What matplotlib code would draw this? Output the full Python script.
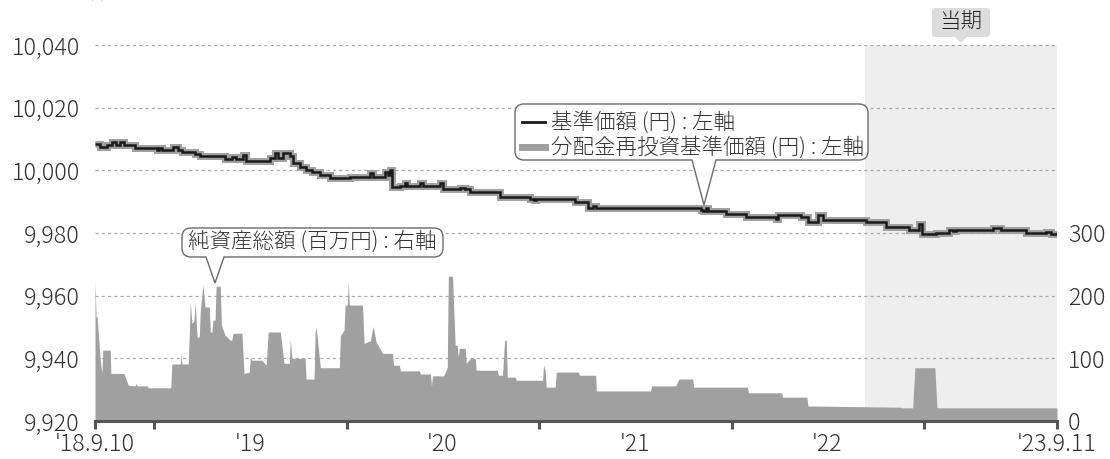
import matplotlib
matplotlib.use('Agg')
import matplotlib.pyplot as plt
from matplotlib.path import Path
from matplotlib.patches import PathPatch
from matplotlib.lines import Line2D
from matplotlib.transforms import Affine2D
import pandas as pd

plt.rcParams['font.family'] = ['Noto Sans CJK JP', 'DejaVu Sans']
plt.rcParams['font.weight'] = 'light'

# ---------------- data ----------------
start_date = '2018-09-10'
end_date = '2023-09-11'
period_start = '2022-09-12'

nav_dates = ['2018-09-10', '2018-09-20', '2018-10-03', '2018-10-12', '2018-10-20', '2018-10-28',
             '2018-11-04', '2018-11-25', '2019-01-06', '2019-01-10', '2019-01-15', '2019-02-05',
             '2019-02-15', '2019-02-22', '2019-03-19', '2019-03-29', '2019-05-15', '2019-05-28',
             '2019-06-05', '2019-06-18', '2019-06-24', '2019-08-09', '2019-08-18', '2019-08-24',
             '2019-09-02', '2019-09-16', '2019-09-21', '2019-10-05', '2019-10-16', '2019-10-28',
             '2019-11-12', '2019-12-01', '2020-01-08', '2020-02-15', '2020-02-20', '2020-03-14',
             '2020-03-20', '2020-03-24', '2020-03-28', '2020-04-12', '2020-04-21', '2020-04-25',
             '2020-05-20', '2020-05-24', '2020-06-27', '2020-07-01', '2020-08-04', '2020-08-13',
             '2020-08-23', '2020-10-19', '2020-12-15', '2020-12-21', '2020-12-26', '2021-03-10',
             '2021-04-04', '2021-04-12', '2021-04-19', '2021-11-03', '2021-11-07', '2021-11-13',
             '2021-11-18', '2021-12-21', '2022-01-28', '2022-03-26', '2022-03-31', '2022-05-12',
             '2022-05-27', '2022-06-15', '2022-06-23', '2022-09-13', '2022-10-21', '2022-12-04',
             '2022-12-23', '2022-12-28', '2023-01-24', '2023-02-18', '2023-02-25', '2023-03-03',
             '2023-05-12', '2023-05-27', '2023-07-14', '2023-08-21', '2023-08-30', '2023-09-11']
nav_values = [10008.3, 10007.3, 10008.0, 10009.0, 10008.0, 10009.0,
              10008.0, 10007.0, 10006.4, 10007.0, 10006.4, 10007.5,
              10006.4, 10005.7, 10005.3, 10004.5, 10003.5, 10004.3,
              10003.5, 10005.0, 10003.0, 10004.0, 10005.5, 10004.0,
              10005.5, 10004.5, 10002.5, 10001.0, 10000.0, 9999.4,
              9998.4, 9997.4, 9998.0, 9999.0, 9998.0, 9999.5,
              9998.4, 10000.0, 9994.6, 9995.0, 9996.0, 9995.0,
              9996.0, 9995.0, 9996.0, 9994.0, 9994.5, 9994.0,
              9993.0, 9991.4, 9991.0, 9990.5, 9991.0, 9990.0,
              9988.0, 9988.6, 9988.0, 9987.5, 9987.0, 9988.0,
              9987.0, 9986.0, 9985.0, 9984.5, 9985.6, 9985.0,
              9983.5, 9985.8, 9984.2, 9983.4, 9982.0, 9981.0,
              9983.0, 9979.6, 9980.0, 9981.0, 9980.5, 9981.0,
              9981.5, 9981.0, 9980.0, 9980.3, 9979.8, 9980.2]
# 分配金再投資基準価額 (no distributions -> same as NAV)
reinv_values = list(nav_values)

na_dates = ['2018-09-10', '2018-09-12', '2018-09-14', '2018-09-20', '2018-09-23', '2018-09-25',
            '2018-10-09', '2018-10-10', '2018-11-04', '2018-11-12', '2018-11-25', '2018-11-27',
            '2018-11-29', '2018-12-18', '2018-12-20', '2019-02-01', '2019-02-03', '2019-02-19',
            '2019-02-20', '2019-02-22', '2019-03-06', '2019-03-08', '2019-03-10', '2019-03-13',
            '2019-03-17', '2019-03-19', '2019-03-23', '2019-03-27', '2019-03-29', '2019-04-03',
            '2019-04-07', '2019-04-15', '2019-04-17', '2019-04-20', '2019-04-22', '2019-04-26',
            '2019-04-28', '2019-05-06', '2019-05-08', '2019-05-15', '2019-05-25', '2019-05-28',
            '2019-05-30', '2019-06-16', '2019-06-20', '2019-06-30', '2019-07-02', '2019-07-05',
            '2019-07-24', '2019-08-01', '2019-08-05', '2019-08-28', '2019-09-04', '2019-09-14',
            '2019-09-16', '2019-09-19', '2019-10-14', '2019-10-16', '2019-10-31', '2019-11-02',
            '2019-11-04', '2019-11-08', '2019-11-12', '2019-12-18', '2019-12-20', '2019-12-27',
            '2019-12-29', '2020-01-02', '2020-01-04', '2020-01-06', '2020-01-31', '2020-02-03',
            '2020-02-15', '2020-02-20', '2020-02-26', '2020-03-09', '2020-03-28', '2020-03-30',
            '2020-04-10', '2020-04-12', '2020-05-18', '2020-05-20', '2020-06-08', '2020-06-10',
            '2020-06-12', '2020-07-03', '2020-07-10', '2020-07-12', '2020-07-20', '2020-07-25',
            '2020-07-29', '2020-07-31', '2020-08-02', '2020-08-13', '2020-08-15', '2020-08-23',
            '2020-09-01', '2020-09-03', '2020-10-13', '2020-10-15', '2020-10-23', '2020-10-27',
            '2020-10-30', '2020-11-01', '2020-11-16', '2020-11-18', '2021-01-07', '2021-01-09',
            '2021-01-12', '2021-01-14', '2021-01-31', '2021-02-02', '2021-03-16', '2021-03-18',
            '2021-04-18', '2021-04-19', '2021-07-31', '2021-08-02', '2021-09-17', '2021-09-23',
            '2021-10-19', '2021-10-21', '2022-01-31', '2022-02-02', '2022-04-06', '2022-04-08',
            '2022-05-24', '2022-05-26', '2022-11-18', '2022-11-20', '2022-12-11', '2022-12-15',
            '2023-01-22', '2023-01-26', '2023-09-11']
na_values = [225, 166, 166, 97, 76, 113,
             113, 76, 76, 57, 56, 60,
             56, 56, 53, 53, 91, 91,
             107, 91, 91, 137, 190, 156,
             160, 190, 134, 134, 177, 217,
             182, 182, 142, 142, 161, 161,
             215, 215, 153, 137, 129, 129,
             140, 140, 76, 78, 102, 97,
             97, 89, 142, 142, 92, 92,
             131, 100, 100, 67, 67, 142,
             150, 118, 85, 85, 136, 145,
             185, 185, 222, 185, 185, 124,
             128, 151, 126, 108, 108, 89,
             89, 80, 80, 75, 75, 56,
             72, 72, 85, 231, 231, 121,
             121, 102, 116, 116, 92, 100,
             100, 81, 81, 73, 73, 129,
             129, 70, 70, 65, 65, 89,
             80, 54, 54, 78, 78, 73,
             73, 48, 48, 56, 56, 67,
             67, 54, 54, 45, 45, 38,
             38, 24, 22, 21, 21, 85,
             85, 21, 21]

left_ticks = [9920, 9940, 9960, 9980, 10000, 10020, 10040]
right_ticks = [0, 100, 200, 300]
x_tick_dates = ['2018-09-10', '2019-01-01', '2020-01-01', '2021-01-01',
                '2022-01-01', '2023-01-01', '2023-09-11']
x_label_dates = ['2018-09-10', '2019-07-01', '2020-07-01', '2021-07-01',
                 '2022-07-01', '2023-09-11']
x_labels = ["'18.9.10", "'19", "'20", "'21", "'22", "'23.9.11"]

left_lim = (9920, 10040)
right_lim = (0, 600)

# ---------------- figure ----------------
W, H = 1110, 459
fig = plt.figure(figsize=(W / 100, H / 100), dpi=100)
ax = fig.add_axes([95 / W, 1 - 421 / H, (1057 - 95) / W, (421 - 45) / H])
ax2 = ax.twinx()

TXT = '#333333'
FS = 16.8

# net assets (right axis) on ax (drawn below ax2)
nd = pd.to_datetime(na_dates)
ax.set_xlim(pd.Timestamp(start_date), pd.Timestamp(end_date))
ax.set_ylim(*right_lim)
ax.axvspan(pd.Timestamp(period_start), pd.Timestamp(end_date), color='#eeeeee', lw=0, zorder=0)


def to_right(v):
    return (v - left_lim[0]) / (left_lim[1] - left_lim[0]) * (right_lim[1] - right_lim[0]) + right_lim[0]


for t in left_ticks[1:]:
    ax.axhline(to_right(t), color='#aaaaaa', lw=0.9, ls=(0, (2.5, 2.5)), zorder=1)

ax.fill_between(nd, na_values, 0, color='#a0a0a0', lw=0, zorder=3)

ax.yaxis.tick_right()
ax.set_yticks(right_ticks)
ax.set_yticklabels([f'{v:,}' for v in right_ticks])
ax.tick_params(axis='y', length=0, pad=8, labelsize=FS, labelcolor=TXT)

for s in ['top', 'left', 'right']:
    ax.spines[s].set_visible(False)
ax.spines['bottom'].set_color('#555555')
ax.spines['bottom'].set_linewidth(2.2)
ax.spines['bottom'].set_zorder(5)

ax.xaxis.set_remove_overlapping_locs(False)
ax.set_xticks(pd.to_datetime(x_tick_dates))
ax.set_xticklabels([''] * len(x_tick_dates))
ax.set_xticks(pd.to_datetime(x_label_dates), minor=True)
ax.set_xticklabels(x_labels, minor=True)
ax.tick_params(axis='x', which='major', length=6, width=2.2, color='#555555', direction='out')
ax.tick_params(axis='x', which='minor', length=0, pad=8, labelsize=FS, labelcolor=TXT)

# NAV lines (left axis)
dd = pd.to_datetime(nav_dates)
ax2.set_ylim(*left_lim)
ax2.plot(dd, reinv_values, drawstyle='steps-post', color='#a0a0a0', lw=5.0, zorder=4,
         solid_joinstyle='miter', solid_capstyle='butt')
ax2.plot(dd, nav_values, drawstyle='steps-post', color='#1a1a1a', lw=1.8, zorder=5,
         solid_joinstyle='miter', solid_capstyle='butt')
ax2.yaxis.tick_left()
ax2.set_yticks(left_ticks)
ax2.set_yticklabels([f'{v:,}' for v in left_ticks])
ax2.tick_params(axis='y', length=0, pad=11, labelsize=FS, labelcolor=TXT)
for s in ['top', 'left', 'right', 'bottom']:
    ax2.spines[s].set_visible(False)

# ---------------- annotations in pixel space ----------------
pix = Affine2D().scale(1 / W, -1 / H).translate(0, 1) + fig.transFigure


def callout(x0, y0, x1, y1, r, b0, b1, tx, ty, fc, ec, lw):
    verts = [(x0 + r, y0), (x1 - r, y0), (x1, y0), (x1, y0 + r), (x1, y1 - r), (x1, y1),
             (x1 - r, y1), (b1, y1), (tx, ty), (b0, y1), (x0 + r, y1), (x0, y1), (x0, y1 - r),
             (x0, y0 + r), (x0, y0), (x0 + r, y0), (x0 + r, y0)]
    codes = [Path.MOVETO, Path.LINETO, Path.CURVE3, Path.CURVE3, Path.LINETO, Path.CURVE3,
             Path.CURVE3, Path.LINETO, Path.LINETO, Path.LINETO, Path.LINETO, Path.CURVE3,
             Path.CURVE3, Path.LINETO, Path.CURVE3, Path.CURVE3, Path.CLOSEPOLY]
    p = PathPatch(Path(verts, codes), facecolor=fc, edgecolor=ec, lw=lw,
                  transform=pix, zorder=10)
    fig.add_artist(p)


# legend callout
callout(515, 104, 868, 160, 9, 692, 716, 704, 205, 'white', '#6a6a6a', 1.0)
fig.add_artist(Line2D([522, 545], [122, 122], color='#1a1a1a', lw=2.0, transform=pix, zorder=11))
fig.add_artist(Line2D([522, 545], [147, 147], color='#a0a0a0', lw=5.0, transform=pix, zorder=11))
fig.text(551, 122, '基準価額 (円) : 左軸', transform=pix, fontsize=15.5, color=TXT,
         ha='left', va='center', zorder=12)
fig.text(551, 147, '分配金再投資基準価額 (円) : 左軸', transform=pix, fontsize=15.5, color=TXT,
         ha='left', va='center', zorder=12)

# net assets callout
callout(182, 228, 443, 257, 9, 206, 224, 215, 283, 'white', '#6a6a6a', 1.0)
fig.text(312, 242, '純資産総額 (百万円) : 右軸', transform=pix, fontsize=15.5, color=TXT,
         ha='center', va='center', zorder=12)

# current period label
callout(932, 8, 990, 37, 3, 955, 967, 961, 43, '#dcdcdc', 'none', 0)
fig.text(961, 22, '当期', transform=pix, fontsize=15.5, color='#222222',
         ha='center', va='center', zorder=12)

# title (cut off at the top edge, as in the source)
fig.text(10, -2.0, '基準価額等の推移', transform=pix, fontsize=17, fontweight='bold',
         color='#222222', ha='left', va='baseline')

fig.savefig('out.png', dpi=100)
